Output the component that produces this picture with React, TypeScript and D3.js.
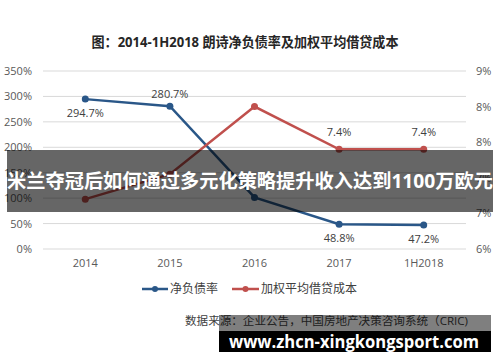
import React from "react";
import * as d3 from "d3";

const categories = ["2014", "2015", "2016", "2017", "1H2018"];
const netDebtRatio = [294.7, 280.7, 101.5, 48.8, 47.2];
const borrowCost = [6.7, 7.05, 8.0, 7.4, 7.4];
const netDebtLabels = ["294.7%", "280.7%", "", "48.8%", "47.2%"];
const borrowLabels = ["", "", "", "7.4%", "7.4%"];
const leftTicks = [0, 50, 100, 150, 200, 250, 300, 350];
const rightTicks = [6, 6.5, 7, 7.5, 8, 8.5];
const seriesNames = ["净负债率", "加权平均借贷成本"];
const title = "图：2014-1H2018 朗诗净负债率及加权平均借贷成本";
const sourceText = "数据来源：企业公告，中国房地产决策咨询系统（CRIC)";
const bannerText = "米兰夺冠后如何通过多元化策略提升收入达到1100万欧元";
const watermark = "www.zhcn-xingkongsport.com";

const W = 500, H = 362;
const plot = { left: 43, right: 466, top: 71, bottom: 249 };
const BLUE = "#2A5788";
const RED = "#C0504D";
const FONT = "'Open Sans', 'Noto Sans CJK SC', sans-serif";

export default function App() {
  const x = d3.scaleBand().domain(categories).range([plot.left, plot.right]);
  const cx = (c: string) => (x(c) as number) + x.bandwidth() / 2;
  const yL = d3.scaleLinear().domain([0, 350]).range([plot.bottom, plot.top]);
  const yR = d3.scaleLinear().domain([6, 8.5]).range([plot.bottom, plot.top]);
  const lineL = d3.line<number>().x((_, i) => cx(categories[i])).y((d) => yL(d));
  const lineR = d3.line<number>().x((_, i) => cx(categories[i])).y((d) => yR(d));
  const fmtR = (v: number) => `${Math.round(v + 1e-9)}%`;

  return (
    <svg width={W} height={H} style={{ position: "absolute", left: 0, top: 0, background: "#fff" }} fontFamily={FONT}>
      <rect width={W} height={H} fill="#fff" />
      <text x={245} y={47} textAnchor="middle" fontSize={13.5} fontWeight="bold" fill="#262626" textLength={307} lengthAdjust="spacingAndGlyphs">{title}</text>
      {leftTicks.map((t) => (
        <g key={"l" + t}>
          <line x1={plot.left} x2={plot.right} y1={yL(t)} y2={yL(t)} stroke="#d9d9d9" strokeWidth={1} />
          <text x={32} y={yL(t) + 4} textAnchor="end" fontSize={11} fill="#595959">{t}%</text>
        </g>
      ))}
      {rightTicks.map((t) => (
        <text key={"r" + t} x={476} y={yR(t) + 4} textAnchor="start" fontSize={11} fill="#595959">{fmtR(t)}</text>
      ))}
      {categories.map((c) => (
        <text key={c} x={cx(c)} y={267} textAnchor="middle" fontSize={11} fill="#595959">{c}</text>
      ))}
      <path d={lineL(netDebtRatio) || ""} fill="none" stroke={BLUE} strokeWidth={2.5} />
      <path d={lineR(borrowCost) || ""} fill="none" stroke={RED} strokeWidth={2.5} />
      {netDebtRatio.map((v, i) => (
        <circle key={"b" + i} cx={cx(categories[i])} cy={yL(v)} r={3.5} fill={BLUE} />
      ))}
      {borrowCost.map((v, i) => (
        <circle key={"rc" + i} cx={cx(categories[i])} cy={yR(v)} r={3.5} fill={RED} />
      ))}
      {netDebtLabels.map((l, i) => l ? (
        <text key={"bl" + i} x={cx(categories[i])} y={yL(netDebtRatio[i]) + (i === 1 ? -8 : 18)} textAnchor="middle" fontSize={11} fill="#404040">{l}</text>
      ) : null)}
      {borrowLabels.map((l, i) => l ? (
        <text key={"rl" + i} x={cx(categories[i])} y={yR(borrowCost[i]) - 13} textAnchor="middle" fontSize={11} fill="#404040">{l}</text>
      ) : null)}
      {/* legend */}
      <g>
        <line x1={142} x2={168} y1={289} y2={289} stroke={BLUE} strokeWidth={2.5} />
        <circle cx={155} cy={289} r={3} fill={BLUE} />
        <text x={170} y={293} fontSize={12} fill="#404040">{seriesNames[0]}</text>
        <line x1={232} x2={259} y1={289} y2={289} stroke={RED} strokeWidth={2.5} />
        <circle cx={245.5} cy={289} r={3} fill={RED} />
        <text x={261} y={293} fontSize={12} fill="#404040">{seriesNames[1]}</text>
      </g>
      <text x={185} y={325} fontSize={11.5} fill="#404040" textLength={283} lengthAdjust="spacingAndGlyphs">{sourceText}</text>
      {/* overlays */}
      <rect x={7} y={150} width={486} height={62} fill="rgba(0,0,0,0.6)" />
      <text x={250} y={188} textAnchor="middle" fontSize={19} fontWeight="bold" fill="#fff" textLength={486} lengthAdjust="spacingAndGlyphs">{bannerText}</text>
      <rect x={219} y={315} width={272} height={16} fill="rgba(0,0,0,0.5)" />
      <rect x={219} y={331} width={272} height={21} fill="#000" />
      <text x={354} y={348} textAnchor="middle" fontSize={17} fontWeight="bold" fill="#fff" textLength={250} lengthAdjust="spacingAndGlyphs">{watermark}</text>
    </svg>
  );
}
